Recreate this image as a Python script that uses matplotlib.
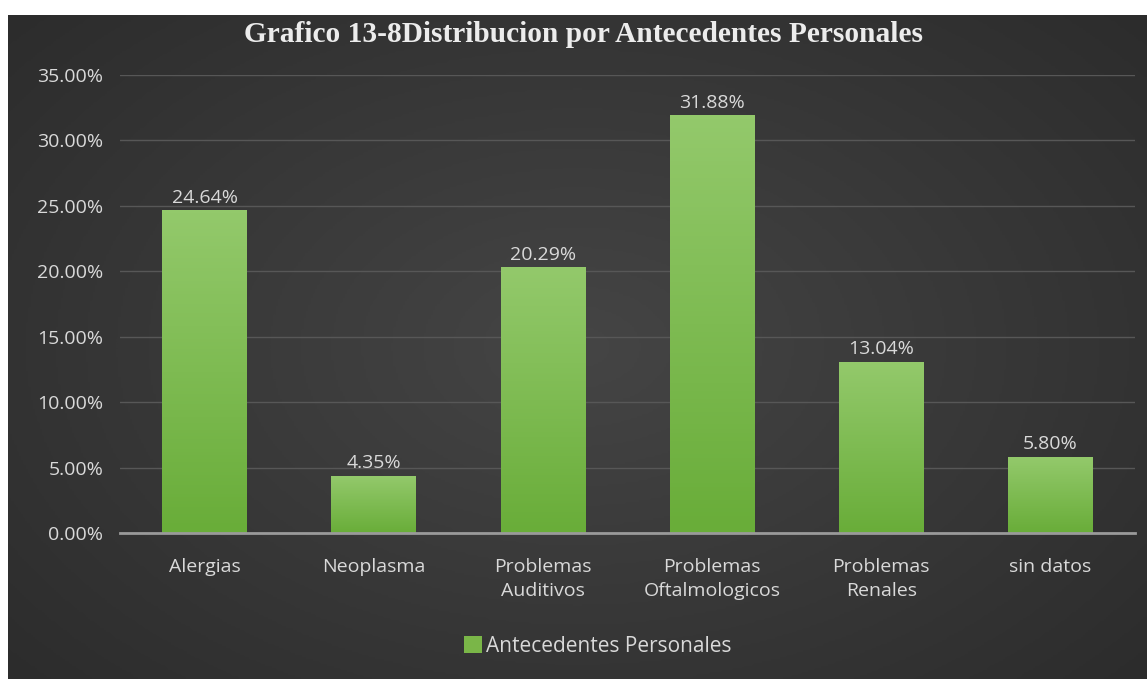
import numpy as np
import matplotlib.pyplot as plt
from matplotlib.patches import Patch
from matplotlib.colors import LinearSegmentedColormap

categorias = ['Alergias', 'Neoplasma', 'Problemas\nAuditivos', 'Problemas\nOftalmologicos',
              'Problemas\nRenales', 'sin datos']
valores = [0.2464, 0.0435, 0.2029, 0.3188, 0.1304, 0.0580]
ticks_y = [0.0, 0.05, 0.10, 0.15, 0.20, 0.25, 0.30, 0.35]
titulo = 'Grafico 13-8Distribucion por Antecedentes Personales'
serie = 'Antecedentes Personales'

txt = '#d9d9d9'
fuente = ['Open Sans', 'DejaVu Sans']
fs = 14

fig = plt.figure(figsize=(11.47, 6.79), dpi=100)
fig.patch.set_facecolor('white')

# fondo oscuro con degradado radial
bg = fig.add_axes([8 / 1147, 0, 1 - 8 / 1147, 1 - 15 / 679])
bg.set_axis_off()
yy, xx = np.mgrid[-1:1:300j, -1:1:500j]
r = np.sqrt(xx ** 2 + (yy * 0.9) ** 2)
fondo = LinearSegmentedColormap.from_list('fondo', ['#454545', '#2c2c2c'])
bg.imshow(r, cmap=fondo, aspect='auto', extent=[0, 1, 0, 1], vmin=0, vmax=1.35)
bg.set_xlim(0, 1)
bg.set_ylim(0, 1)

ax = fig.add_axes([120 / 1147, 1 - 533 / 679, (1135 - 120) / 1147, (533 - 75) / 679])
ax.set_facecolor('none')
x = np.arange(len(categorias))
barras = ax.bar(x, valores, width=0.5, color='#7ab648', zorder=2)

verde = LinearSegmentedColormap.from_list('verde', ['#69ad39', '#93c96b'])
grad = np.linspace(0, 1, 100).reshape(-1, 1)
for b in barras:
    x0, w, h = b.get_x(), b.get_width(), b.get_height()
    ax.imshow(grad, cmap=verde, aspect='auto', origin='lower',
              extent=[x0, x0 + w, 0, h], zorder=3)

for xi, v in zip(x, valores):
    ax.text(xi, v + 0.003, f'{v * 100:.2f}%', ha='center', va='bottom',
            color=txt, fontsize=fs, family=fuente, zorder=4)

ax.set_xlim(-0.5, len(categorias) - 0.5)
ax.set_ylim(0, 0.35)
ax.set_yticks(ticks_y)
ax.set_yticklabels([f'{t * 100:.2f}%' for t in ticks_y], color=txt, fontsize=fs, family=fuente)
ax.set_xticks(x)
ax.set_xticklabels(categorias, color=txt, fontsize=fs, family=fuente, linespacing=1.45)
ax.tick_params(length=0)
ax.tick_params(axis='x', pad=18)
ax.tick_params(axis='y', pad=12)
ax.grid(axis='y', color='#575757', linewidth=1, zorder=0)
for s in ['top', 'right', 'left']:
    ax.spines[s].set_visible(False)
ax.spines['bottom'].set_color('#9a9a9a')
ax.spines['bottom'].set_linewidth(2)
ax.spines['bottom'].set_zorder(5)

fig.text(584 / 1147, 1 - 34 / 679, titulo, ha='center', va='center', color='#ececec',
         fontsize=21.2, fontweight='bold', family='Liberation Serif')

leg = fig.legend(handles=[Patch(facecolor='#7ab648', label=serie)], loc='center',
                 bbox_to_anchor=(598 / 1147, 1 - 646 / 679), frameon=False,
                 handlelength=0.85, handleheight=0.85, handletextpad=0.2,
                 prop={'family': fuente, 'size': 15})
for t in leg.get_texts():
    t.set_color(txt)

fig.savefig('out.png', dpi=100)
